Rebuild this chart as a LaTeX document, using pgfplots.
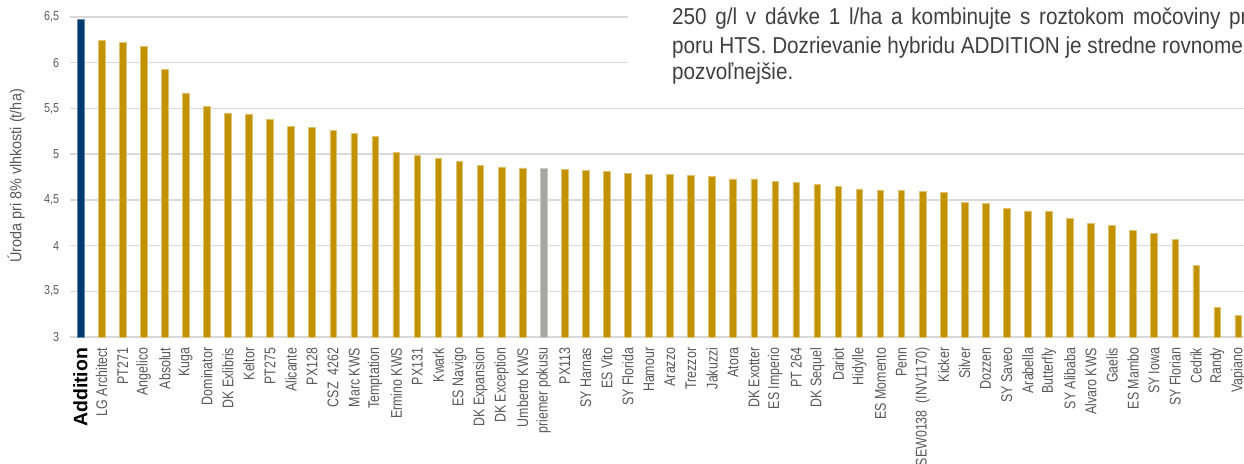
\documentclass[border=0pt]{standalone}
\usepackage{pgfplots}
\pgfplotsset{compat=1.18}
\usepackage{fontspec}
\setmainfont{Liberation Sans}
\newfontfamily\condfont{Liberation Sans}[FakeStretch=0.8]
\newfontfamily\tickfont{Liberation Sans}[FakeStretch=0.83]
\newfontfamily\ylabfont{Liberation Sans}[FakeStretch=0.9]
\newfontfamily\boxfont{Liberation Sans}[FakeStretch=0.9]
\definecolor{gold}{HTML}{C29200}
\definecolor{navy}{HTML}{003A70}
\definecolor{avggray}{HTML}{A6A6A2}
\definecolor{gridgray}{HTML}{D9D9D9}
\definecolor{labgray}{HTML}{595959}
\definecolor{boxtext}{HTML}{404040}
\pgfplotstableread{
x y
1 6.24
2 6.22
3 6.18
4 5.93
5 5.67
6 5.52
7 5.45
8 5.44
9 5.38
10 5.30
11 5.29
12 5.26
13 5.23
14 5.19
15 5.02
16 4.99
17 4.95
18 4.92
19 4.88
20 4.86
21 4.85
23 4.83
24 4.82
25 4.81
26 4.79
27 4.78
28 4.78
29 4.77
30 4.76
31 4.73
32 4.73
33 4.70
34 4.69
35 4.67
36 4.65
37 4.62
38 4.61
39 4.60
40 4.59
41 4.58
42 4.47
43 4.46
44 4.41
45 4.38
46 4.37
47 4.30
48 4.24
49 4.22
50 4.17
51 4.13
52 4.07
53 3.78
54 3.32
55 3.24
}\hybrids
\begin{document}
\begin{tikzpicture}[x=1pt,y=1pt]
\useasboundingbox (0,0) rectangle (1244,463);
\clip (0,0) rectangle (1244,463);
\begin{axis}[
  at={(70pt,126pt)}, anchor=south west,
  scale only axis, width=1178.8pt, height=320pt,
  xmin=-0.5, xmax=55.5, ymin=3, ymax=6.5,
  ybar, bar width=6.6pt,
  axis line style={draw=none},
  tick style={draw=none},
  ymajorgrids, grid style={gridgray, line width=1.3pt},
  ytick={3,3.5,4,4.5,5,5.5,6,6.5},
  /pgf/number format/.cd, use comma, assume math mode=true,
  /pgfplots/.cd,
  yticklabel style={font=\tickfont\fontsize{13}{13}\selectfont, text=labgray, xshift=-7.4pt},
  xtick={0,...,55},
  xticklabels={{\normalfont\bfseries\fontsize{19.5}{20}\selectfont\color{black}Addition},LG Architect,PT271,Angelico,Absolut,Kuga,Dominator,DK Exlibris,Keltor,PT275,Alicante,PX128,CSZ\ \ 4262,Marc KWS,Temptation,Ermino KWS,PX131,Kwark,ES Navigo,DK Expansion,DK Exception,Umberto KWS,priemer pokusu,PX113,SY Harnas,ES Vito,SY Florida,Hamour,Arazzo,Trezzor,Jakuzzi,Atora,DK Exotter,ES Imperio,PT 264,DK Sequel,Dariot,Hidylle,ES Momento,Penn,SEW0138\ \ (INV1170),Kicker,Silver,Dozzen,SY Saveo,Arabella,Butterfly,SY Alibaba,Alvaro KWS,Gaelis,ES Mambo,SY Iowa,SY Florian,Cedrik,Randy,Vapiano},
  xticklabel style={font=\condfont\fontsize{15.5}{15.5}\selectfont, text=labgray, rotate=90, anchor=east},
  xticklabel shift=3pt,
]
\addplot[bar shift=0pt, fill=navy, draw=navy!60!white, line width=0.6pt] coordinates {(0,6.48)};
\addplot[bar shift=0pt, fill=gold, draw=gold!55!white, line width=0.6pt] table[x=x,y=y] {\hybrids};
\addplot[bar shift=0pt, fill=avggray, draw=avggray!60!white, line width=0.6pt] coordinates {(22,4.84)};
\end{axis}
\fill[white] (628,463) rectangle (1244,368);
\begin{scope}[every node/.style={anchor=base west, inner sep=0pt, text=boxtext, font=\boxfont\fontsize{23}{27}\selectfont}]
\node at (672,438.2) {\makebox[580pt][s]{250 g/l v dávke 1 l/ha a kombinujte s roztokom močoviny pri}};
\node at (672,409) {poru HTS. Dozrievanie hybridu ADDITION je stredne rovnomerné};
\node at (672,383) {pozvoľnejšie.};
\end{scope}
\node[rotate=90, text=labgray, font=\ylabfont\fontsize{16}{16}\selectfont] at (16,287) {Úroda pri 8\% vlhkosti (t/ha)};
\end{tikzpicture}
\end{document}
